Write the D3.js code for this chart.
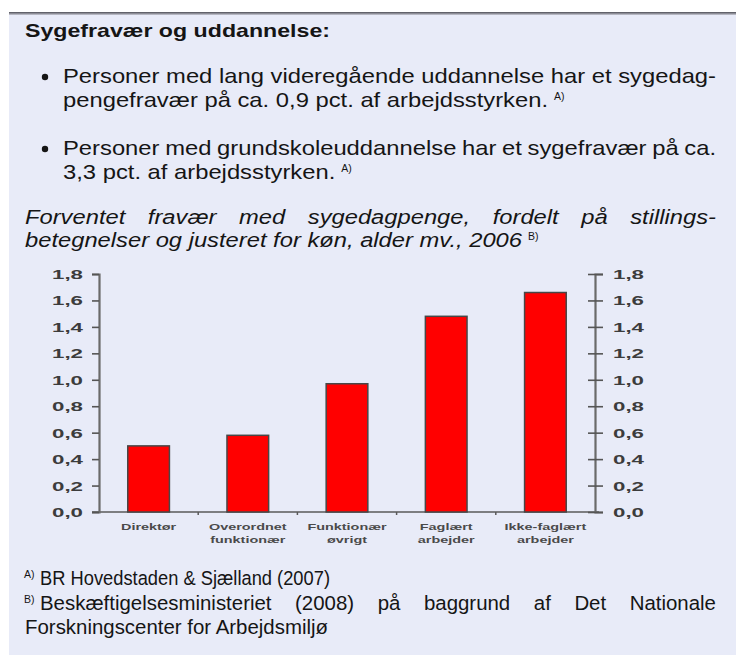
<!DOCTYPE html>
<html>
<head>
<meta charset="utf-8">
<script src="https://cdn.jsdelivr.net/npm/d3@7"></script>
<style>
  html, body { margin: 0; padding: 0; background: #fff; }
  svg { display: block; }
</style>
</head>
<body>
<div id="chart"></div>
<script>
(function () {
  const W = 736, H = 657;
  const FONT = "'Liberation Sans', Arial, sans-serif";

  // chart data
  const categories = [
    ["Direktør"],
    ["Overordnet", "funktionær"],
    ["Funktionær", "øvrigt"],
    ["Faglært", "arbejder"],
    ["Ikke-faglært", "arbejder"]
  ];
  const values = [0.50, 0.58, 0.97, 1.48, 1.66];
  const yTicks = [0, 0.2, 0.4, 0.6, 0.8, 1.0, 1.2, 1.4, 1.6, 1.8];

  // text rows of the slide; "fit" row sets the squeeze of its block
  const bullets = [
    { text: "Personer med lang videregående uddannelse har et sygedag-", x0: 63, x1: 716, y: 83, dot: true, fit: true },
    { text: "pengefravær på ca. 0,9 pct. af arbejdsstyrken.", x0: 63, y: 107, sup: "A)" },
    { text: "Personer med grundskoleuddannelse har et sygefravær på ca.", x0: 63, x1: 716, y: 155, dot: true, justify: true },
    { text: "3,3 pct. af arbejdsstyrken.", x0: 63, y: 179, sup: "A)" }
  ];
  const subtitle = [
    { text: "Forventet fravær med sygedagpenge, fordelt på stillings-", x0: 25, x1: 716, y: 224, justify: true },
    { text: "betegnelser og justeret for køn, alder mv., 2006", x0: 25, x1: 522, y: 247, sup: "B)", fit: true }
  ];
  const notes = [
    { text: "BR Hovedstaden & Sjælland (2007)", x0: 40, x1: 330, y: 585, pre: "A)" },
    { text: "Beskæftigelsesministeriet (2008) på baggrund af Det Nationale", x0: 40, x1: 716, y: 610, pre: "B)", justify: true },
    { text: "Forskningscenter for Arbejdsmiljø", x0: 25, x1: 328, y: 634, fit: true }
  ];

  const svg = d3.select("#chart").append("svg")
    .attr("width", W)
    .attr("height", H)
    .style("font-family", FONT);

  const defs = svg.append("defs");
  const grad = defs.append("linearGradient")
    .attr("id", "topEdge").attr("x1", 0).attr("x2", 0).attr("y1", 0).attr("y2", 1);
  grad.append("stop").attr("offset", "0%").attr("stop-color", "#4d4d55");
  grad.append("stop").attr("offset", "100%").attr("stop-color", "#c9cbd6");

  // panel
  svg.append("rect")
    .attr("x", 9).attr("y", 12)
    .attr("width", W - 9).attr("height", 643)
    .attr("fill", "#e8ebf8");
  svg.append("rect")
    .attr("x", 9).attr("y", 12)
    .attr("width", W - 9).attr("height", 3)
    .attr("fill", "url(#topEdge)");

  const txt = svg.append("g");

  function styled(sel, style) {
    return sel
      .attr("font-size", style.size)
      .attr("font-style", style.italic ? "italic" : "normal")
      .attr("fill", "#151515");
  }

  function measure(s, style) {
    const t = styled(txt.append("text"), style).text(s);
    const w = t.node().getComputedTextLength();
    t.remove();
    return w;
  }

  function sup(label, x, y) {
    txt.append("text")
      .attr("x", x).attr("y", y - 7)
      .attr("font-size", 10.5)
      .attr("fill", "#151515")
      .text(label);
  }

  // draws a block of lines sharing one horizontal squeeze
  function block(rows, style) {
    const ref = rows.find(r => r.fit);
    const k = (ref.x1 - ref.x0) / measure(ref.text, style);
    rows.forEach(row => {
      let end;
      if (row.justify) {
        const words = row.text.split(" ");
        const widths = words.map(w => measure(w, style) * k);
        const gap = (row.x1 - row.x0 - d3.sum(widths)) / (words.length - 1);
        let x = row.x0;
        words.forEach((w, i) => {
          styled(txt.append("text"), style)
            .attr("x", x).attr("y", row.y)
            .attr("textLength", widths[i]).attr("lengthAdjust", "spacingAndGlyphs")
            .text(w);
          x += widths[i] + gap;
        });
        end = row.x1;
      } else {
        const w = row.x1 ? row.x1 - row.x0 : measure(row.text, style) * k;
        styled(txt.append("text"), style)
          .attr("x", row.x0).attr("y", row.y)
          .attr("textLength", w).attr("lengthAdjust", "spacingAndGlyphs")
          .text(row.text);
        end = row.x0 + w;
      }
      if (row.dot) txt.append("circle").attr("cx", 45).attr("cy", row.y - 6).attr("r", 3.2).attr("fill", "#151515");
      if (row.sup) sup(row.sup, end + 6, row.y);
      if (row.pre) sup(row.pre, 24, row.y);
    });
  }

  txt.append("text")
    .attr("x", 25).attr("y", 37)
    .attr("font-size", 19)
    .attr("font-weight", "bold")
    .attr("fill", "#151515")
    .attr("textLength", 305)
    .attr("lengthAdjust", "spacingAndGlyphs")
    .text("Sygefravær og uddannelse:");

  block(bullets, { size: 21 });
  block(subtitle, { size: 20, italic: true });
  block(notes, { size: 20.5 });

  // chart
  const x = d3.scaleBand()
    .domain(d3.range(categories.length))
    .range([99, 595])
    .paddingInner(0.58)
    .paddingOuter(0.29);
  const y = d3.scaleLinear().domain([0, 1.8]).range([512, 274]);
  const fmt = d => d3.format(".1f")(d).replace(".", ",");

  const chart = svg.append("g");

  // x baseline + category separators
  chart.append("line")
    .attr("x1", 92).attr("x2", 599)
    .attr("y1", y(0)).attr("y2", y(0))
    .attr("stroke", "#5a5a5a").attr("stroke-width", 1.5);
  chart.selectAll(".sep")
    .data(d3.range(1, categories.length))
    .join("line")
    .attr("x1", i => x(i) - x.step() * x.paddingInner() / 2)
    .attr("x2", i => x(i) - x.step() * x.paddingInner() / 2)
    .attr("y1", y(0)).attr("y2", y(0) + 3)
    .attr("stroke", "#5a5a5a").attr("stroke-width", 1.5);

  chart.selectAll(".bar")
    .data(values)
    .join("rect")
    .attr("x", (d, i) => x(i))
    .attr("width", x.bandwidth())
    .attr("y", d => y(d))
    .attr("height", d => y(0) - y(d))
    .attr("fill", "#ff0000")
    .attr("stroke", "#474747")
    .attr("stroke-width", 1.5);

  const left = chart.append("g")
    .attr("transform", `translate(99,0)`)
    .call(d3.axisLeft(y).tickValues(yTicks).tickFormat(fmt).tickSize(7).tickPadding(9));
  const right = chart.append("g")
    .attr("transform", `translate(595,0)`)
    .call(d3.axisRight(y).tickValues(yTicks).tickFormat(fmt).tickSize(8).tickPadding(10));
  right.selectAll(".tick line").attr("x1", -7);

  [left, right].forEach(ax => {
    ax.select(".domain").attr("stroke", "#6a6a6a").attr("stroke-width", 2.2);
    ax.selectAll(".tick line").attr("stroke", "#555").attr("stroke-width", 1.6);
    ax.selectAll(".tick text")
      .attr("font-family", FONT)
      .attr("font-size", 12.5)
      .attr("font-weight", "bold")
      .attr("fill", "#3c3c3c")
      .attr("textLength", 31)
      .attr("lengthAdjust", "spacingAndGlyphs")
      .attr("dy", "0.36em");
  });

  // category labels
  const lab = chart.selectAll(".cat")
    .data(categories)
    .join("g")
    .attr("transform", (d, i) => `translate(${x(i) + x.bandwidth() / 2},0)`);
  lab.selectAll("text")
    .data(d => d)
    .join("text")
    .attr("y", (d, j) => 530 + j * 13)
    .attr("text-anchor", "middle")
    .attr("font-size", 9)
    .attr("font-weight", "bold")
    .attr("fill", "#4a4a4a")
    .text(d => d)
    .each(function () {
      const w = this.getComputedTextLength();
      d3.select(this).attr("textLength", w * 1.6).attr("lengthAdjust", "spacingAndGlyphs");
    });
})();
</script>
</body>
</html>
